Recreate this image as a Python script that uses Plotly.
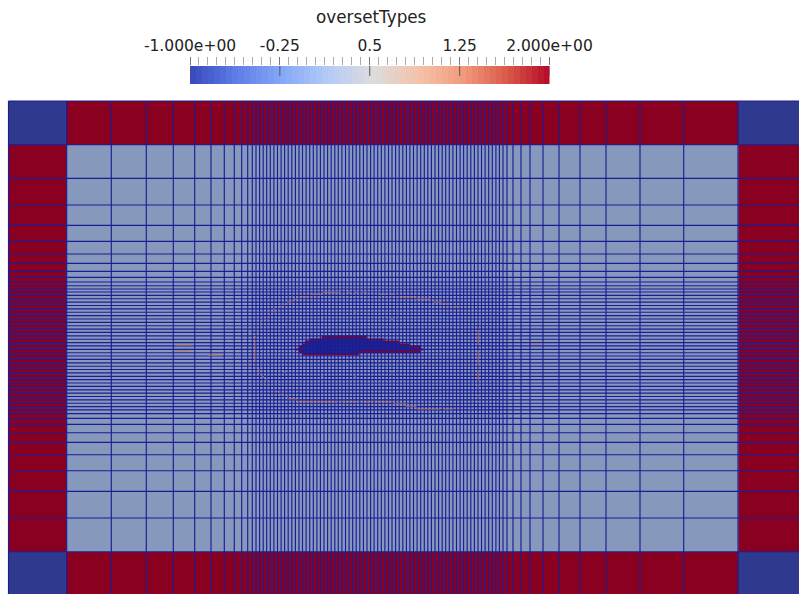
import plotly.graph_objects as go

# Mesh line positions along each axis
x_edges = [8.5, 66.7, 111.3, 146.3, 173.3, 194.7, 211, 224.3, 234.3, 241.7, 247.7, 252.3,
           256, 259.6, 263.2, 266.7, 270.3, 273.9, 277.5, 281.1, 284.6, 288.2, 291.8, 295.4,
           299.0, 302.5, 306.1, 309.7, 313.3, 316.9, 320.4, 324.0, 327.6, 331.2, 334.8, 338.3,
           341.9, 345.5, 349.1, 352.7, 356.2, 359.8, 363.4, 367.0, 370.6, 374.1, 377.7, 381.3,
           384.9, 388.5, 392.0, 395.6, 399.2, 402.8, 406.4, 409.9, 413.5, 417.1, 420.7, 424.3,
           427.8, 431.4, 435.0, 438.6, 442.2, 445.7, 449.3, 452.9, 456.5, 460.1, 463.6, 467.2,
           470.8, 474.4, 478.0, 481.5, 485.1, 488.7, 492.3, 495.9, 499.4, 503,
           507, 513, 521, 530, 543, 559, 580, 606, 640, 683.7, 738, 800]
y_edges = [101, 144.7, 178.3, 205, 225.3, 241.3, 254, 263.3, 271.3, 277.3, 282, 285.7, 289,
           292, 295.4, 298.7, 302.1, 305.5, 308.8, 312.2, 315.6, 319, 322.3, 325.7, 329.1,
           332.4, 335.8, 339.2, 342.6, 345.9, 349.3, 352.7, 356, 359.4, 362.8, 366.2, 369.5,
           372.9, 376.3, 379.6, 383, 386.4, 389.8, 393.1, 396.5, 399.9, 403.2, 406.6, 409.9,
           413.6, 418.3, 424.3, 432.7, 442.3, 454.7, 470.7, 491.3, 518, 551.7, 596]

# Overset type of each class of cell
HOLE, FIELD, FRINGE = -1, 0, 1

# Airfoil hole, finer cells: '.' none, 'R' fringe, 'B' hole
hole_x_edges = [295.7, 298.55, 301.4, 304.25, 307.1, 309.95, 312.8, 315.65, 318.5, 321.35, 324.2, 327.05,
                329.9, 332.75, 335.6, 338.45, 341.3, 344.15, 347.0, 349.85, 352.7, 355.55, 358.4, 361.25,
                364.1, 366.95, 369.8, 372.65, 375.5, 378.35, 381.2, 384.05, 386.9, 389.75, 392.6, 395.45,
                398.3, 401.15, 404.0, 406.85, 409.7, 412.55, 415.4, 418.25, 421.1, 424.0]
hole_y_edges = [335.4, 338.0, 340.5, 343.1, 345.6, 348.2, 350.7, 353.3, 355.8]
hole_rows = [
    ".........RRRRRRRRRRRRRRRR....................",
    ".....RRRRBBBBBBBBBBBBBBBBRRRRRR..............",
    "...RRBBBBBBBBBBBBBBBBBBBBBBBBBBRRRRR.........",
    "..RBBBBBBBBBBBBBBBBBBBBBBBBBBBBBBBBBRRRR.....",
    ".RBBBBBBBBBBBBBBBBBBBBBBBBBBBBBBBBBBBBBBRRRR.",
    "RBBBBBBBBBBBBBBBBBBBBBBBBBBBBBBBBBBBBBBBBBBBR",
    ".RBBBBBBBBBBBBBBBBBBBBRRRRRRRRRRRRRRRRRRRRRR.",
    "..RRRRRRRRRRRRRRRRRRRR.......................",
]

# Scattered fringe cells around the overset boundary
ring_h = [(296.7, 301, 309), (294.3, 310, 321.7), (292.3, 323.3, 340), (292.3, 346.7, 350), (292.3, 355, 358.3),
          (292.3, 363.3, 366.7), (292.3, 371, 372.7), (294.3, 379.3, 386.7), (294.3, 390.7, 395), (296.7, 399.3, 415),
          (299.3, 416.7, 430), (302, 433.3, 441.7), (304, 441.7, 450), (306.7, 453.3, 460), (306.7, 464, 465.5),
          (309.3, 472, 473.5), (314.3, 480, 481.5), (299.3, 293.3, 298.3), (302, 287.3, 291.7), (304.3, 281.7, 285.7),
          (306.7, 279.3, 281.7), (309.3, 273.3, 275), (311.7, 273, 274.5), (314.3, 268.3, 270), (316.7, 268, 269.5),
          (320, 265, 266.5), (323.3, 260, 261.7), (326.7, 260, 261.5), (332.3, 248.3, 251.7), (332.3, 256.7, 258.3),
          (336.7, 253.3, 256), (364.3, 248.3, 251.7), (370, 257.3, 260), (373.3, 258, 259.5), (376.7, 261.7, 264),
          (379.3, 265, 266.7), (385, 268.3, 270), (391.7, 276.7, 280), (394.3, 281, 282.5), (396.7, 286.7, 288),
          (398.7, 288.3, 297.3), (401.7, 296.7, 336.7), (401.7, 341.7, 350), (401.7, 351.7, 358.3), (401.7, 363.3, 373.3),
          (401.7, 376.7, 391.7), (404, 393.3, 406.7), (406.3, 405.7, 416.7), (409, 416.7, 440), (409, 444, 453.3),
          (409, 461.7, 463), (409, 469.3, 470.7), (312.3, 354, 356), (319.3, 321, 323), (324.3, 284, 286),
          (319.3, 391, 393), (324.3, 424, 426), (331.7, 461, 463), (356.7, 461, 463), (364.3, 424, 426),
          (371.7, 391, 393), (376.7, 354, 356), (376.7, 321, 323), (371.7, 284, 286),
          (345.3, 175, 193), (351, 175, 190), (355.3, 208, 222), (344, 531, 543)]
ring_v = [(254.7, 341.7, 361.7), (478.3, 330, 345), (478.3, 350, 365), (478.3, 370, 380), (480, 321.7, 325),
          (478.3, 385, 386.5), (478.3, 395, 396.5), (478.3, 401, 402.5)]

# Colour bar
bar_title = "oversetTypes"
bar_tick_vals = [-1, -0.25, 0.5, 1.25, 2]
bar_tick_text = ["-1.000e+00", "-0.25", "0.5", "1.25", "2.000e+00"]
bar_edges = [-1, -0.95, -0.9, -0.85, -0.8, -0.75, -0.7, -0.65, -0.6, -0.55, -0.5, -0.45, -0.4, -0.35, -0.3,
             -0.25, -0.2, -0.15, -0.1, -0.05, 0, 0.05, 0.1, 0.15, 0.2, 0.25, 0.3, 0.35, 0.4, 0.45, 0.5,
             0.55, 0.6, 0.65, 0.7, 0.75, 0.8, 0.85, 0.9, 0.95, 1, 1.05, 1.1, 1.15, 1.2, 1.25, 1.3, 1.35,
             1.4, 1.45, 1.5, 1.55, 1.6, 1.65, 1.7, 1.75, 1.8, 1.85, 1.9, 1.95, 2]

COLORS = dict(hole="#2f3a8e", airfoil="#1c2590", field="#8699bd", fringe="#8a0020", line="#1c1c94", ring="#c9704f")
cell_scale = [[0, COLORS["hole"]], [0.25, COLORS["hole"]], [0.25, COLORS["field"]],
              [0.75, COLORS["field"]], [0.75, COLORS["fringe"]], [1, COLORS["fringe"]]]
hole_scale = [[0, COLORS["airfoil"]], [0.5, COLORS["airfoil"]], [0.5, COLORS["fringe"]], [1, COLORS["fringe"]]]
cool_warm = [[0, "#3b4cc0"], [0.125, "#5f7fe8"], [0.25, "#86a8f8"], [0.375, "#b4cbf6"], [0.5, "#dddcdc"],
             [0.625, "#f4c3ab"], [0.75, "#f29a7c"], [0.875, "#d95847"], [1, "#b40426"]]

WIDTH, HEIGHT = 799, 594
nx, ny = len(x_edges) - 1, len(y_edges) - 1


def cell_type(i, j):
    on_x, on_y = i in (0, nx - 1), j in (0, ny - 1)
    if on_x and on_y:
        return HOLE
    return FRINGE if (on_x or on_y) else FIELD


cells = [[cell_type(i, j) for i in range(nx)] for j in range(ny)]
code = {".": None, "R": FRINGE, "B": HOLE}
hole_cells = [[code[c] for c in row] for row in hole_rows]

ring_x, ring_y = [], []
for y, x0, x1 in ring_h:
    ring_x += [x0, x1, None]
    ring_y += [y, y, None]
for x, y0, y1 in ring_v:
    ring_x += [x, x, None]
    ring_y += [y0, y1, None]

line_x, line_y = [], []
for x in x_edges:
    line_x += [x, x, None]
    line_y += [y_edges[0], y_edges[-1], None]
for y in y_edges:
    line_x += [x_edges[0], x_edges[-1], None]
    line_y += [y, y, None]

fig = go.Figure()
fig.add_trace(go.Heatmap(x=x_edges, y=y_edges, z=cells, zmin=-1, zmax=1, colorscale=cell_scale,
                         showscale=False, hoverinfo="skip"))
fig.add_trace(go.Scatter(x=line_x, y=line_y, mode="lines", line=dict(color=COLORS["line"], width=1.15),
                         showlegend=False, hoverinfo="skip"))
fig.add_trace(go.Scatter(x=ring_x, y=ring_y, mode="lines", line=dict(color=COLORS["ring"], width=1.4),
                         opacity=0.55, showlegend=False, hoverinfo="skip"))
fig.add_trace(go.Heatmap(x=hole_x_edges, y=hole_y_edges, z=hole_cells, zmin=-1, zmax=1, colorscale=hole_scale,
                         showscale=False, hoverinfo="skip"))
fig.add_trace(go.Heatmap(x=bar_edges, y=[0, 1], z=[bar_edges[:-1]], zmin=-1, zmax=2, colorscale=cool_warm,
                         showscale=False, hoverinfo="skip", xaxis="x2", yaxis="y2"))

font = dict(family="DejaVu Sans", size=15.5, color="#222222")
shapes = [dict(type="line", xref="x2", yref="y2 domain", x0=v, x1=v, y0=0.45, y1=1,
               line=dict(color="#555555", width=1)) for v in bar_tick_vals]
fig.update_layout(
    template="none",
    width=WIDTH, height=HEIGHT, margin=dict(l=0, r=0, t=0, b=0, pad=0, autoexpand=False),
    paper_bgcolor="white", plot_bgcolor="white",
    xaxis=dict(range=[0, WIDTH], domain=[0, 1], visible=False, automargin=False),
    yaxis=dict(range=[HEIGHT, 0], domain=[0, 1], visible=False, automargin=False),
    xaxis2=dict(range=[-1, 2], domain=[190 / WIDTH, 549.5 / WIDTH], anchor="y2", side="top", showgrid=False,
                automargin=False, zeroline=False, showline=False, tickmode="array", tickvals=bar_tick_vals,
                ticktext=bar_tick_text, ticks="outside", ticklen=8, tickcolor="#777777", tickfont=font,
                ticklabelstandoff=0,
                minor=dict(tick0=-1, dtick=0.075, ticks="outside", ticklen=8, tickcolor="#aaaaaa", tickwidth=1, showgrid=False)),
    yaxis2=dict(range=[0, 1], domain=[1 - 84 / HEIGHT, 1 - 66 / HEIGHT], anchor="x2", visible=False, automargin=False),
    annotations=[dict(text=bar_title, xref="paper", yref="paper", x=371 / WIDTH, y=1 - 17 / HEIGHT, xanchor="center",
                      yanchor="middle", showarrow=False, font=dict(family="DejaVu Sans", size=16.8, color="#222222"))],
    shapes=shapes,
)
fig.write_html("out.html", config={"displayModeBar": False},
               post_script="document.body.style.margin='0';document.body.style.overflow='hidden';")
